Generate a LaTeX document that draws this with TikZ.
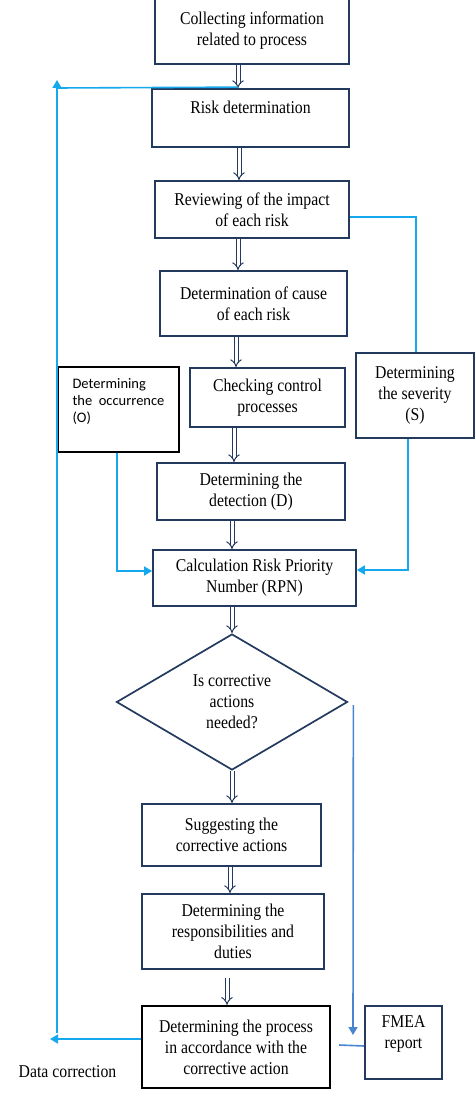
\documentclass[tikz,border=0pt]{standalone}
\usepackage{fontspec}
\setmainfont{Liberation Serif}[FakeStretch=0.875]
\newfontfamily\calfont{Carlito}
\usetikzlibrary{arrows.meta,shapes.geometric,calc}
\definecolor{navy}{RGB}{35,58,94}
\definecolor{skyline}{RGB}{22,168,236}
\definecolor{cornline}{RGB}{74,134,208}
\tikzset{
  box/.style={draw=navy, line width=1.7pt, fill=white, rectangle, inner sep=0pt, align=center,
    font=\fontsize{18pt}{21pt}\selectfont},
  blackbox/.style={box, draw=black},
  dbl/.style={draw=navy, line width=1pt, double=white, double distance=3pt, -{Implies[scale=1.15]}},
  bluel/.style={draw=skyline, line width=1.6pt},
  bluearrow/.style={bluel, -{Triangle[length=8pt,width=9pt]}},
  fmeal/.style={draw=cornline, line width=1.6pt},
  fmeaarrow/.style={fmeal, -{Triangle[length=8pt,width=9pt]}},
}
\begin{document}
\begin{tikzpicture}[x=1pt,y=-1pt]
\useasboundingbox (0,0) rectangle (474,1110);
\fill[white] (0,0) rectangle (474,1110);

\node[box, minimum width=194pt, minimum height=66pt] (n1) at (252,31) {Collecting information\\related to process};
\node[box, minimum width=197pt, minimum height=58pt] (n2) at (250.5,118) {Risk determination\\\mbox{}};
\node[box, minimum width=194pt, minimum height=57pt] (n3) at (252,209.5) {Reviewing of the impact\\of each risk};
\node[box, minimum width=187pt, minimum height=65pt] (n4) at (253.5,303.5) {Determination of cause\\of each risk};
\node[box, minimum width=155pt, minimum height=59pt] (n5) at (267.5,397.5) {Checking control\\processes};
\node[blackbox, minimum width=121pt, minimum height=85pt, align=left,
  font=\calfont\fontsize{14.5pt}{17pt}\selectfont] (occ) at (118.5,409.5) {Determining\\the\ \ occurrence\\(O)\\\mbox{}};
\node[box, minimum width=118pt, minimum height=85pt] (sev) at (415,395.5) {Determining\\the severity\\(S)};
\node[box, minimum width=188pt, minimum height=57pt] (det) at (251,491.5) {Determining the\\detection (D)};
\node[box, minimum width=203pt, minimum height=56pt] (rpn) at (254.5,578) {Calculation Risk Priority\\Number (RPN)};
\node[box, diamond, aspect=1.7, minimum width=231pt, minimum height=136pt] (dia) at (232,702) {Is corrective\\actions\\needed?};
\node[box, minimum width=179pt, minimum height=62pt] (sug) at (231.5,835) {Suggesting the\\corrective actions};
\node[box, minimum width=182pt, minimum height=75pt] (resp) at (233,931.5) {Determining the\\responsibilities and\\duties};
\node[blackbox, line width=2.2pt, minimum width=188pt, minimum height=82pt] (proc) at (236,1047) {Determining the process\\in accordance with the\\corrective action};
\node[box, minimum width=77pt, minimum height=73pt] (fmea) at (403.5,1042.5) {FMEA\\report\\\mbox{}};
\node[font=\fontsize{18pt}{21pt}\selectfont, inner sep=0pt] (dc) at (67.5,1072) {Data correction};

% main double arrows
\draw[dbl] ([xshift=-14pt]n1.south) -- ([xshift=-12.5pt]n2.north);
\draw[dbl] ([xshift=-11.5pt]n2.south) -- ([xshift=-13pt]n3.north);
\draw[dbl] ([xshift=-14pt]n3.south) -- ([xshift=-15.5pt]n4.north);
\draw[dbl] ([xshift=-17.5pt]n4.south) -- ([xshift=-31.5pt]n5.north);
\draw[dbl] ([xshift=-33.5pt]n5.south) -- ([xshift=-17pt]det.north);
\draw[dbl] ([xshift=-19pt]det.south) -- ([xshift=-22.5pt]rpn.north);
\draw[dbl] ([xshift=-22.5pt]rpn.south) -- (dia.north);
\draw[dbl] (dia.south) -- ([xshift=0.5pt]sug.north);
\draw[dbl] ([xshift=-1.5pt]sug.south) -- ([xshift=-3pt]resp.north);
\draw[dbl] ([xshift=-6pt,yshift=-8pt]resp.south) -- ([xshift=-9pt]proc.north);

% feedback loop (data correction)
\coordinate (dctip) at (50,1039);
\coordinate (loopbot) at (57,1033);
\coordinate (looptop) at (57,80);
\coordinate (loopjoin) at (57,88);
\draw[bluearrow] ([yshift=8pt]proc.west) -- (dctip);
\draw[bluearrow] (loopbot) -- (looptop);
\draw[bluel] (loopjoin) -- ([xshift=-12.5pt,yshift=1pt]n2.north);

% severity branch
\draw[bluel] ([yshift=-7.5pt]n3.east) -| ([xshift=1pt]sev.north);
\draw[bluearrow] ([xshift=-7pt]sev.south) |- ([yshift=8pt]rpn.east);
% occurrence branch
\draw[bluearrow] ([xshift=-1.5pt]occ.south) |- ([yshift=7pt]rpn.west);

% FMEA branch
\coordinate (fmeatip) at (353,1035);
\draw[fmeaarrow] ([xshift=5pt,yshift=-3pt]dia.east) -- (fmeatip);
\draw[fmeal] ([xshift=8pt,yshift=2pt]proc.east) -- ([yshift=-3.5pt]fmea.west);
\end{tikzpicture}
\end{document}
